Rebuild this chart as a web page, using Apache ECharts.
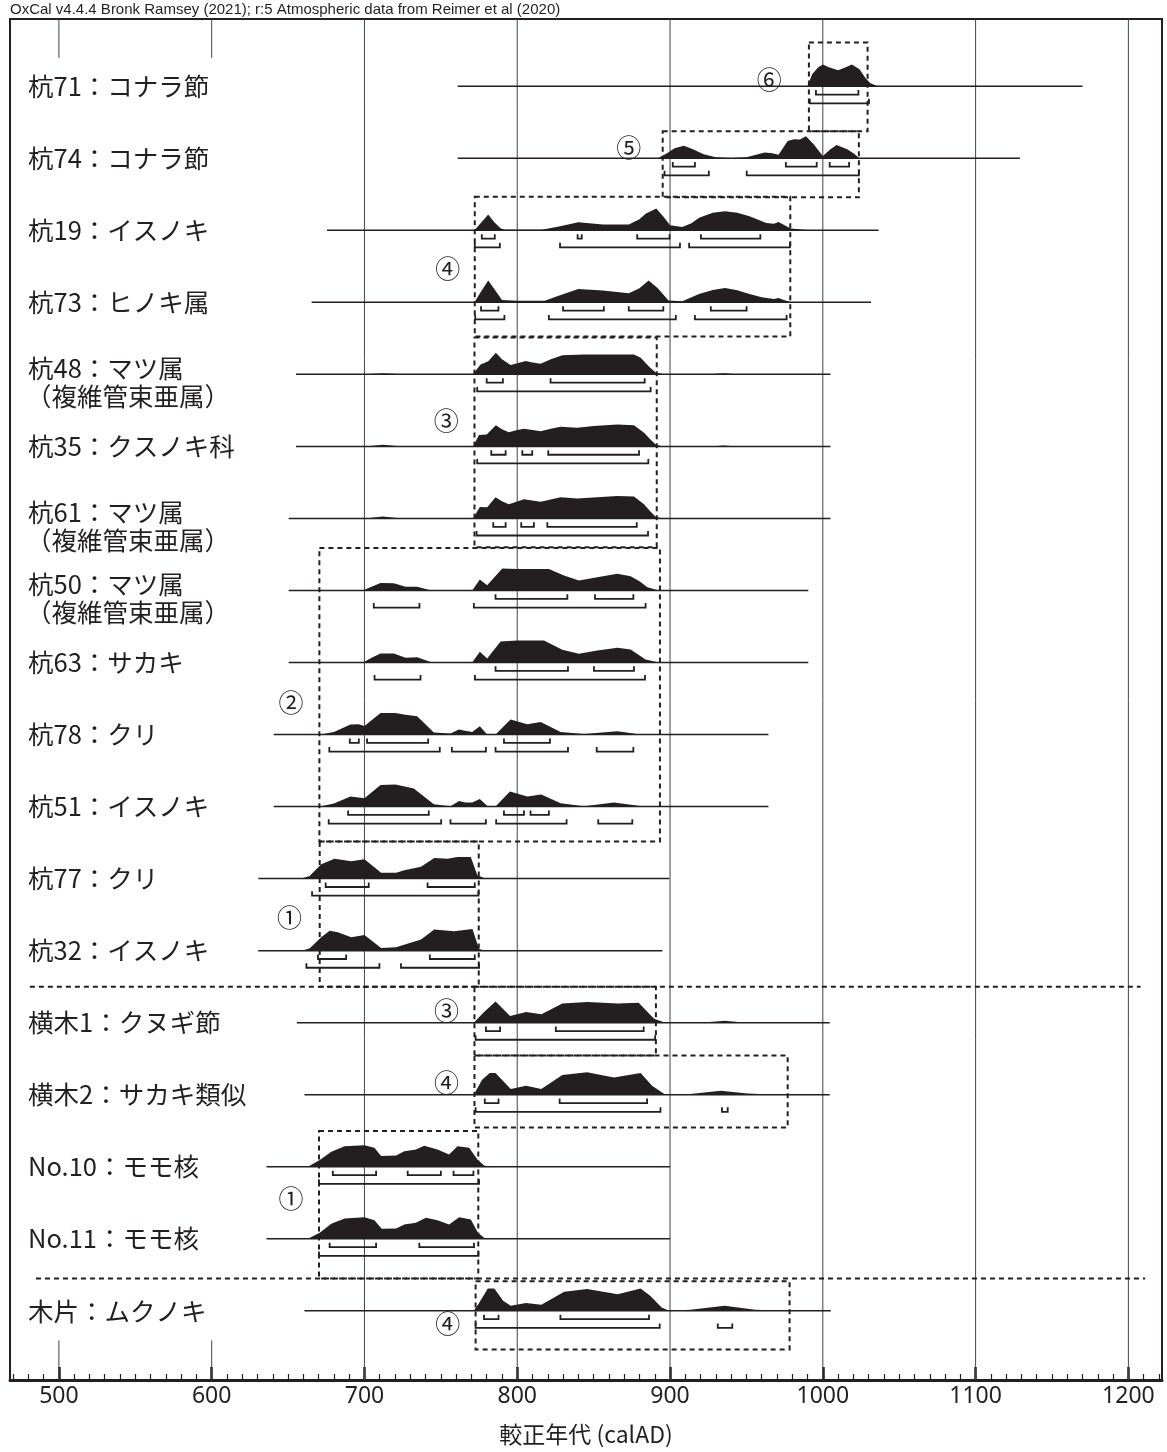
<!DOCTYPE html>
<html><head><meta charset="utf-8">
<script src="https://cdn.jsdelivr.net/npm/echarts@6/dist/echarts.min.js"></script>
<style>html,body{margin:0;padding:0;background:#fff}#c{width:1167px;height:1452px}</style>
</head><body><div id="c"></div>
<script>
// ---------- data ----------
const rowLabels = ['杭71：コナラ節','杭74：コナラ節','杭19：イスノキ','杭73：ヒノキ属','杭48：マツ属','杭35：クスノキ科','杭61：マツ属','杭50：マツ属','杭63：サカキ','杭78：クリ','杭51：イスノキ','杭77：クリ','杭32：イスノキ','横木1：クヌギ節','横木2：サカキ類似','No.10：モモ核','No.11：モモ核','木片：ムクノキ'];
const rowSubLabels = ['','','','','（複維管束亜属）','','（複維管束亜属）','（複維管束亜属）','','','','','','','','','',''];
const lineStart = [761,761,675.5,665.4,655.2,655.2,650.4,650.4,650.4,640.6,640.6,630.5,630.5,655.75,660.75,635.9,635.9,660.75];
const lineEnd = [1170,1129,1036.5,1031.6,1005,1005,1005,990.5,990.5,964.4,964.4,899.5,895,1004.5,1004.5,900,900,1005.25];

// probability density (year, relative probability)
const d71 = [[990,0],[993,54],[997,86],[1000,98],[1004,86],[1010,72],[1015,86],[1019,98],[1024,77],[1028,36],[1031,14],[1035,2],[1040,0]];
const d74 = [[892,0],[898,23],[903,45],[909,56],[915,41],[922,18],[930,5],[940,1],[950,5],[962,26],[967,22],[971,16],[977,78],[981,86],[985,84],[989,99],[994,63],[1000,10],[1005,41],[1009,60],[1016,41],[1020,23],[1024,0]];
const d19 = [[772,0],[776,32],[781,71],[785,36],[789,9],[792,2],[816,2],[828,18],[840,36],[856,26],[873,26],[880,50],[884,75],[891,98],[896,59],[900,23],[908,15],[914,32],[919,57],[928,79],[936,86],[944,79],[952,63],[963,33],[968,29],[971,37],[975,23],[979,8],[988,2],[996,0]];
const d73 = [[772,0],[776,45],[781,98],[786,50],[790,10],[800,7],[818,7],[828,32],[840,60],[856,53],[873,41],[880,63],[886,98],[892,63],[899,8],[908,5],[919,38],[928,56],[936,65],[944,54],[952,38],[960,23],[968,15],[971,19],[975,9],[979,1],[985,0]];
const d48 = [[700,0],[712,5],[725,0],[771,0],[776,45],[781,59],[786,97],[790,68],[795.6,42],[800,50],[805.5,60],[810,54],[815.3,48],[822,68],[829.5,86],[843.7,90],[861,90],[876.4,90],[880.8,75],[886,36],[890.6,8],[896,0],[925,0],[935,5],[945,0]];
const d35 = [[700,0],[712,7],[725,0],[771,0],[775,51],[780,54],[786,95],[790,77],[794.5,64],[800,74],[804.4,79],[810,74],[815.3,68],[822,79],[828.4,88],[839.3,84],[850,92],[865.5,99],[876.4,95],[883,61],[887,32],[890.6,9],[895,0],[925,0],[935,4],[945,0]];
const d61 = [[700,0],[712,9],[725,0],[771,0],[775.5,52],[780.3,50],[785.8,95],[790,77],[794.5,64],[804.4,86],[815.3,75],[828.4,95],[839.3,90],[865.5,101],[876.4,99],[883,64],[887,32],[890.6,8],[895,0]];
const d50 = [[675,0],[699.6,2],[705,18],[710.5,34],[719.2,32],[726.9,17],[734.5,17],[743.2,1],[770.5,0],[775.5,50],[780.3,23],[790.2,99],[800,97],[820.7,97],[830.6,68],[840.4,45],[852.4,60],[865.5,75],[874.2,64],[880,41],[885.2,15],[892.8,0]];
const d63 = [[675,0],[699.6,2],[705,23],[710.5,41],[719.2,41],[726.9,21],[734.5,24],[744.3,0],[770.5,0],[775.5,48],[780.3,18],[789.1,95],[800,99],[817.5,99],[829.5,57],[840.4,39],[852.4,54],[865.5,66],[874.2,59],[884,14],[892.8,0]];
const d78 = [[671,0],[680,12],[690.8,45],[696.3,46],[700,39],[710.5,97],[720.3,97],[725.8,90],[734.5,82],[745.4,9],[756.3,5],[761.8,23],[765,18],[770.5,12],[775.5,37],[780.3,0],[785.8,0],[795.6,68],[806.6,46],[815.3,57],[828.4,12],[843.7,3],[865.5,15],[880.8,0]];
const d51 = [[671,0],[680,14],[690.8,45],[700,37],[710.5,97],[720.3,100],[732.3,82],[745.4,10],[756.3,1],[762,25],[766,18],[770.5,18],[775.5,34],[780.8,0],[785.8,0],[795.2,68],[806.6,45],[815.7,55],[828.4,15],[843.7,1],[863.3,18],[883,0]];
const d77 = [[658.7,0],[664.1,12],[671.7,65],[680.4,90],[691.3,78],[700,87],[710.9,27],[720.7,27],[726.1,38],[737,53],[745.7,93],[754.3,90],[760.9,98],[769.6,98],[773.9,15],[778.3,3],[782,0]];
const d32 = [[658.7,0],[664,10],[671.7,60],[677.2,90],[682.6,83],[691.3,60],[700,71],[710.9,12],[720.7,15],[737,50],[745.7,95],[758.7,87],[770.7,98],[775,8],[779.3,0]];
const dYoko1 = [[705,0],[718,3],[730,0],[771.5,0],[778.3,48],[785.8,96],[795.3,30],[805.8,48],[815.8,38],[829.5,86],[845.8,93],[865.8,86],[879.5,90],[889.5,18],[897,0],[920,0],[935.75,9],[950,0]];
const dYoko2 = [[771.5,0],[777,68],[782,98],[785.75,98],[795.75,26],[805.75,41],[815.75,26],[829.5,89],[845.75,101],[863.25,78],[880.75,98],[888.25,41],[897,0],[913.25,3],[933.25,18],[950.75,5],[970.75,0]];
const dNo10 = [[663,0],[670.7,30],[678.3,68],[687,93],[700,97],[706.5,86],[710.9,48],[720.7,51],[726.1,70],[733.7,78],[739.1,95],[747.8,78],[755.4,55],[760.9,93],[768.5,86],[773.9,33],[778.3,6],[782,0],[805,0],[813,3],[822,0]];
const dNo11 = [[663,0],[670.7,27],[678.3,68],[687,91],[700,97],[706.5,84],[711.3,45],[720.7,46],[726.1,64],[733.7,72],[740.2,95],[747.8,84],[755.4,64],[762,97],[769.6,87],[774.3,27],[778.3,5],[782,0]];
const dMoku = [[771.5,0],[774.5,30],[780.75,101],[785,101],[790.75,45],[795.75,23],[805.75,35],[815.75,27],[830.75,86],[845.75,98],[865.75,75],[880.75,101],[887,68],[894.5,15],[899.5,0],[913.25,5],[935.75,23],[955.75,5],[975.75,0]];
const densities = [d71,d74,d19,d73,d48,d35,d61,d50,d63,d78,d51,d77,d32,dYoko1,dYoko2,dNo10,dNo11,dMoku];

// 68.2% and 95.4% ranges (calAD)
const ranges68 = [
  [[995.5,1023.3]],
  [[901.8,916.3],[975.8,996],[1004.5,1017.2]],
  [[776.8,785.3],[839.5,842.2],[878.5,899.7],[920.2,959.1]],
  [[776.3,787.7],[830,856.7],[873,895.6],[926.7,950.1]],
  [[780,790.6],[821.8,883.4]],
  [[783,792.4],[803.3,809.8],[820.3,879.7]],
  [[784.3,792.4],[802.6,810.9],[819.7,878.2]],
  [[785.8,832.8],[850.9,876]],
  [[785.8,833.2],[850.2,876.4]],
  [[690.4,696.3],[701.7,741.7],[791.3,821.4]],
  [[689.3,742.1],[791.3,804.4],[808.7,820.7]],
  [[674.6,702.8],[741.3,772.2]],
  [[669.6,688],[742.8,772.2]],
  [[779.5,788.75],[825.25,882.75]],
  [[778.75,787.75],[827.75,885]],
  [[679.3,707.6],[728.3,750],[758.3,771.3]],
  [[677.2,707.6],[735.9,771.7]],
  [[778.25,787.75],[828.25,886.25]]
];
const ranges95 = [
  [[991.5,1030.2]],
  [[896.4,925.4],[950.2,1023.6]],
  [[772.2,788.6],[828,906.5],[912.5,978.5]],
  [[772.5,791.6],[820.7,903.8],[916.3,976.3]],
  [[773.8,887.3]],
  [[773.8,885.8]],
  [[773.4,885.6]],
  [[706.1,736],[771.6,884]],
  [[706.6,736.7],[772.3,883.6]],
  [[677,749.3],[757.2,779.5],[785.8,833.2],[852,876]],
  [[676.6,750.2],[756.3,779.5],[786.2,832.3],[853,875.3]],
  [[665.7,774.6]],
  [[662,709.8],[723.9,775]],
  [[772.75,890.25]],
  [[772.75,893.75],[934,937.75]],
  [[670.2,775]],
  [[670.2,774.6]],
  [[772.75,893.25],[931.25,940.75]]
];

// group boxes: [fromYear, toYear, topRow, bottomRow]
const groupBoxes = [[990.9,1029.3,-0.607,0.626],[895.2,1023.6,0.626,1.542],[772.2,978.7,1.535,3.474],[772,891.3,3.49,6.40],[670.5,893.4,6.41,10.485],[670.7,774.8,10.485,12.5],[772,890.75,12.5,13.456],[772,977,13.456,14.456],[670.25,774.5,14.502,16.55],[772.75,978.25,16.59,17.535]];
const groupMarks = ['⑥','⑤','④','③','②','①','③','④','①','④'];
const groupMarkYear = [965,873,754.5,753.5,652,651,753.75,753.75,652,754.5];
const groupMarkRow = [-0.097,0.85,2.535,4.645,8.56,11.545,12.835,13.83,15.44,17.17];
const separators = [[481,1208,12.5],[485,1211,16.55]];

const gridYears = [700,800,900,1000,1100,1200];
const stubYears = [500,600];
const majorTicks = [500,600,700,800,900,1000,1100,1200];
const minorTicks = [];
for (let v = 470; v <= 1220; v += 10) minorTicks.push(v);

// ---------- style ----------
const INK = '#231f20';
const XMIN = 468, XMAX = 1222, YMIN = -0.933, YMAX = 17.96;
const AMP = 0.00308;       // rows per probability unit
const OFF68 = 0.116, OFF95 = 0.237;
const JP = '"Noto Sans CJK JP","Noto Sans CJK SC",sans-serif';

const chart = echarts.init(document.getElementById('c'), null, {renderer:'canvas'});

const rowData = rowLabels.map((_, i) => [800, i, i]);
const bracketData = [];
ranges68.forEach((rs, i) => rs.forEach(r => bracketData.push([r[0], i, 1, r[1]])));
ranges95.forEach((rs, i) => rs.forEach(r => bracketData.push([r[0], i, 2, r[1]])));

chart.setOption({
  animation: false,
  title: {text: 'OxCal v4.4.4 Bronk Ramsey (2021); r:5 Atmospheric data from Reimer et al (2020)', left: 10, top: 2, padding: 0,
    textStyle: {fontSize: 15, fontWeight: 'normal', fontFamily: '"Liberation Sans", sans-serif', color: INK}},
  grid: {left: 10, top: 19, width: 1152, height: 1361, show: true, borderColor: INK, borderWidth: 2, backgroundColor: 'transparent'},
  xAxis: [{
    type: 'value', min: XMIN, max: XMAX, position: 'bottom',
    axisLine: {onZero: false, lineStyle: {color: INK, width: 3}},
    axisTick: {customValues: majorTicks, inside: true, length: 13, lineStyle: {color: INK, width: 2.5}},
    axisLabel: {customValues: majorTicks, margin: 5, fontSize: 23, color: INK, fontFamily: '"Noto Sans", sans-serif',
      formatter: v => String(v)},
    splitLine: {show: false},
    name: '較正年代 (calAD)', nameLocation: 'middle', nameGap: 43,
    nameTextStyle: {fontSize: 23, color: INK, fontFamily: JP}
  }, {
    type: 'value', min: XMIN, max: XMAX, position: 'bottom',
    axisLine: {show: false, onZero: false},
    axisTick: {customValues: minorTicks, inside: true, length: 6, lineStyle: {color: INK, width: 1.2}},
    axisLabel: {show: false}, splitLine: {show: false}
  }],
  yAxis: {type: 'value', min: YMIN, max: YMAX, inverse: true, show: false},
  series: [
    { // grid lines & stubs
      type: 'custom', z: 1, clip: false,
      data: gridYears.map(v => [v, 0, 0]).concat(stubYears.map(v => [v, 0, 1])),
      renderItem: (p, api) => {
        const v = api.value(0), kind = api.value(2);
        const t = api.coord([v, YMIN]), b = api.coord([v, YMAX]);
        const st = {stroke: '#444', lineWidth: 1};
        if (kind === 0) return {type: 'line', shape: {x1: t[0], y1: t[1], x2: b[0], y2: b[1]}, style: st};
        const t2 = api.coord([v, YMIN + 0.54]), b2 = api.coord([v, YMAX - 0.55]);
        return {type: 'group', children: [
          {type: 'line', shape: {x1: t[0], y1: t[1], x2: t2[0], y2: t2[1]}, style: st},
          {type: 'line', shape: {x1: b2[0], y1: b2[1], x2: b[0], y2: b[1]}, style: st}
        ]};
      }
    },
    { // densities
      type: 'custom', z: 3, clip: false, data: rowData,
      renderItem: (p, api) => {
        const i = api.value(2), d = densities[i];
        const pts = [api.coord([d[0][0], i])];
        d.forEach(q => pts.push(api.coord([q[0], i - q[1] * AMP])));
        pts.push(api.coord([d[d.length - 1][0], i]));
        return {type: 'polygon', shape: {points: pts}, style: {fill: INK}};
      }
    },
    { // baselines
      type: 'custom', z: 4, clip: false, data: rowData,
      renderItem: (p, api) => {
        const i = api.value(2);
        const a = api.coord([lineStart[i], i]), b = api.coord([lineEnd[i], i]);
        return {type: 'line', shape: {x1: a[0], y1: a[1], x2: b[0], y2: b[1]}, style: {stroke: INK, lineWidth: 1.5}};
      }
    },
    { // range brackets
      type: 'custom', z: 4, clip: false, data: bracketData,
      renderItem: (p, api) => {
        const row = api.value(1), lvl = api.value(2);
        const y = row + (lvl === 1 ? OFF68 : OFF95);
        const a = api.coord([api.value(0), y]), b = api.coord([api.value(3), y]);
        return {type: 'polyline', shape: {points: [[a[0], a[1] - 4.5], [a[0], a[1]], [b[0], b[1]], [b[0], b[1] - 4.5]]},
          style: {stroke: INK, lineWidth: 1.8, fill: null}};
      }
    },
    { // group boxes
      type: 'custom', z: 5, clip: false,
      data: groupBoxes.map(g => [g[0], g[2], g[1], g[3]]),
      renderItem: (p, api) => {
        const a = api.coord([api.value(0), api.value(1)]), b = api.coord([api.value(2), api.value(3)]);
        return {type: 'rect', shape: {x: a[0], y: a[1], width: b[0] - a[0], height: b[1] - a[1]},
          style: {fill: null, stroke: INK, lineWidth: 2, lineDash: [5, 4]}};
      }
    },
    { // separators
      type: 'custom', z: 5, clip: false,
      data: separators.map(s => [s[0], s[2], s[1]]),
      renderItem: (p, api) => {
        const a = api.coord([api.value(0), api.value(1)]), b = api.coord([api.value(2), api.value(1)]);
        return {type: 'line', shape: {x1: a[0], y1: a[1], x2: b[0], y2: b[1]}, style: {stroke: INK, lineWidth: 2, lineDash: [5, 4]}};
      }
    },
    { // group marks
      type: 'custom', z: 6, clip: false,
      data: groupMarks.map((m, k) => [groupMarkYear[k], groupMarkRow[k], k]),
      renderItem: (p, api) => {
        const c = api.coord([api.value(0), api.value(1)]);
        return {type: 'text', x: c[0], y: c[1], style: {text: groupMarks[api.value(2)], fill: INK,
          font: '25px ' + JP, align: 'center', verticalAlign: 'middle'}};
      }
    },
    { // row labels
      type: 'custom', z: 6, clip: false, data: rowData,
      renderItem: (p, api) => {
        const i = api.value(2);
        const c = api.coord([XMIN, i]);
        const two = rowSubLabels[i] !== '';
        const kids = [{type: 'text', x: c[0] + 18, y: c[1] - (two ? 6 : 0),
          style: {text: rowLabels[i], fill: INK, font: '25.5px ' + JP, align: 'left', verticalAlign: 'middle'}}];
        if (two) kids.push({type: 'text', x: c[0] + 16, y: c[1] + 22,
          style: {text: rowSubLabels[i], fill: INK, font: '25.5px ' + JP, align: 'left', verticalAlign: 'middle'}});
        return {type: 'group', children: kids};
      }
    }
  ]
});
</script></body></html>
